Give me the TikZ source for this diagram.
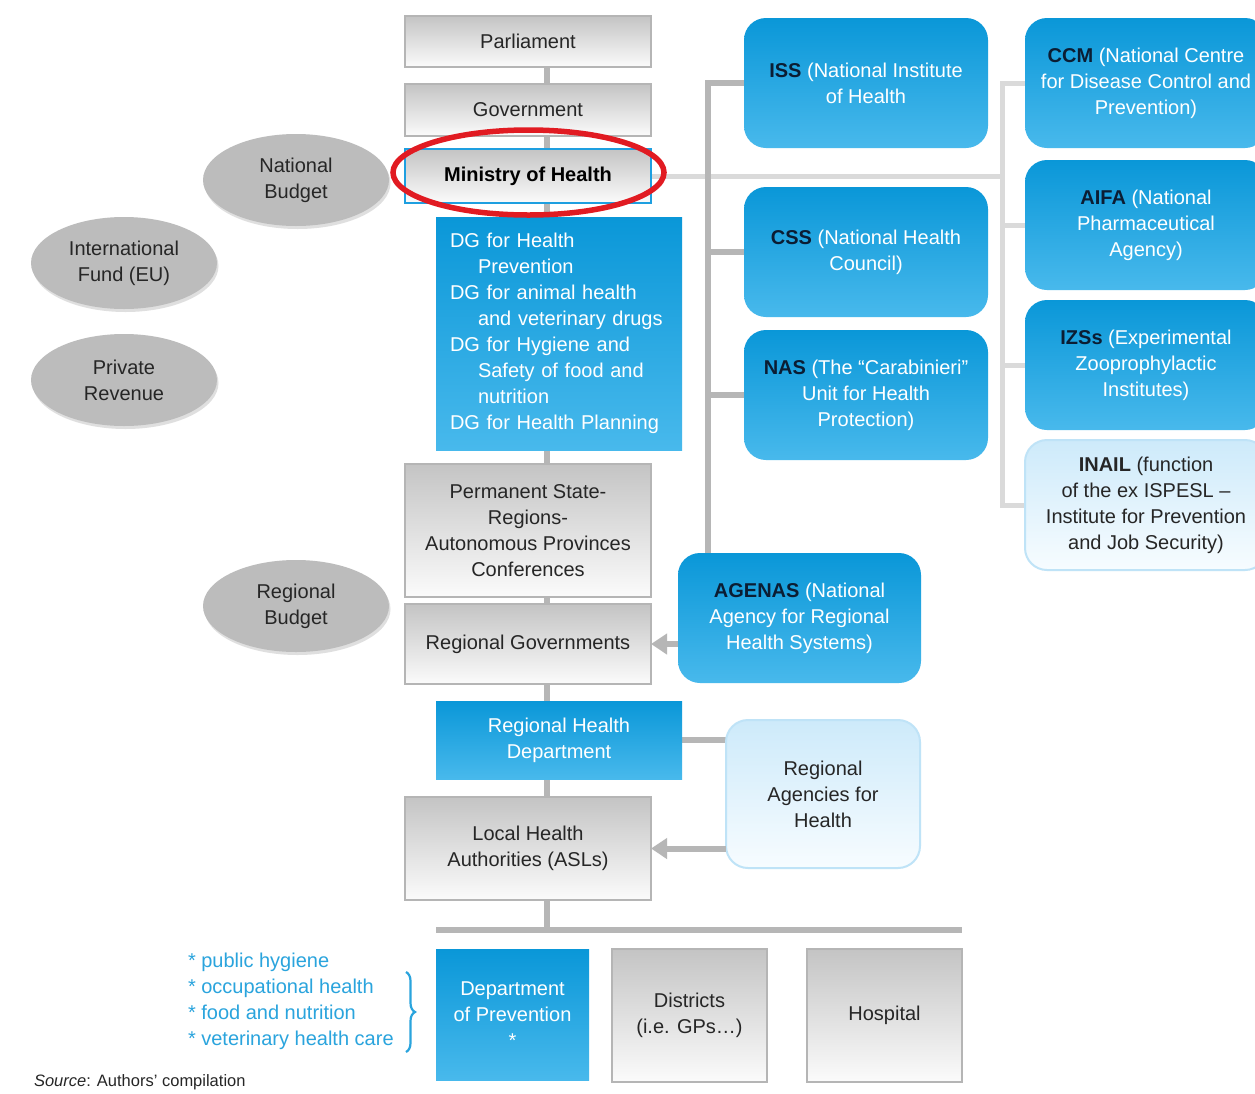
\documentclass[tikz,border=0pt]{standalone}
\usepackage{fontspec}
\setmainfont{Liberation Sans}
\usetikzlibrary{arrows.meta,shapes.geometric,shadows,backgrounds,decorations.pathreplacing,calc}
\definecolor{navy}{HTML}{0B1D33}
\definecolor{bluetop}{HTML}{0A97D8}
\definecolor{bluebot}{HTML}{48B9EC}
\definecolor{graytop}{HTML}{C4C4C4}
\definecolor{graybot}{HTML}{FBFBFB}
\definecolor{grayborder}{HTML}{B5B5B5}
\definecolor{textdark}{HTML}{262626}
\definecolor{mohblue}{HTML}{1E9FE0}
\definecolor{lighttop}{HTML}{CDEAFA}
\definecolor{lightbot}{HTML}{F7FCFF}
\definecolor{lightborder}{HTML}{BFE3F7}
\definecolor{ellgray}{HTML}{BCBCBC}
\definecolor{conngray}{HTML}{B6B6B6}
\definecolor{lightconn}{HTML}{DADADA}
\definecolor{listblue}{HTML}{2AA4DD}
\definecolor{hlred}{HTML}{E11B22}
\tikzset{
  base/.style={font=\fontsize{20}{26}\selectfont, align=center, inner sep=0pt, outer sep=0pt},
  graybox/.style={base, draw=grayborder, line width=2.5pt, top color=graytop, bottom color=graybot, text=textdark, minimum width=246pt},
  bluerect/.style={base, top color=bluetop, bottom color=bluebot, text=white},
  blueround/.style={bluerect, rounded corners=22pt, minimum width=244pt, minimum height=130pt},
  lightround/.style={base, rounded corners=22pt, draw=lightborder, line width=2pt, top color=lighttop, bottom color=lightbot, text=textdark},
  fund/.style={ellipse, base, fill=ellgray, minimum width=186pt, minimum height=92pt, text=textdark, drop shadow={opacity=0.25, shadow xshift=1.5pt, shadow yshift=-3pt}},
  conn/.style={draw=conngray, line width=6pt},
  lconn/.style={draw=lightconn, line width=5pt},
  arr/.style={conn, -{Triangle[width=20pt,length=16pt]}},
}
\newcommand{\ab}[1]{\textbf{\textcolor{navy}{#1}}}
\begin{document}
\begin{tikzpicture}[x=1pt,y=-1pt]
\useasboundingbox (0,0) rectangle (1255,1093);
\clip (0,0) rectangle (1255,1093);

% left column
\node[graybox, minimum height=51pt] (parl) at (528,41.5) {Parliament};
\node[graybox, minimum height=52pt] (gov) at (528,110) {Government};
\node[graybox, draw=mohblue, minimum height=54pt] (moh) at (528,176) {\textbf{\textcolor{black}{Ministry of Health}}};
\node[bluerect, minimum width=246pt, minimum height=233pt, text width=218pt, inner xsep=14pt, align=left] (dg) at (559,333.5) {DG for Health\\\hspace*{28pt}Prevention\\DG for animal health\\\hspace*{28pt}and veterinary drugs\\DG for Hygiene and\\\hspace*{28pt}Safety of food and\\\hspace*{28pt}nutrition\\DG for Health Planning};
\node[graybox, minimum height=133pt] (psr) at (528,530.5) {Permanent State-\\Regions-\\Autonomous Provinces\\Conferences};
\node[graybox, minimum height=80pt] (rg) at (528,644) {Regional Governments};
\node[bluerect, minimum width=246pt, minimum height=78pt] (rhd) at (559,740) {Regional Health\\Department};
\node[graybox, minimum height=103pt] (asl) at (528,848.5) {Local Health\\Authorities (ASLs)};
\node[bluerect, minimum width=153pt, minimum height=131pt] (dop) at (512.5,1014.5) {Department\\of Prevention\\*};
\node[graybox, minimum width=155pt, minimum height=133pt] (dist) at (689.5,1015.5) {Districts\\(i.e. GPs…)};
\node[graybox, minimum width=155pt, minimum height=133pt] (hosp) at (884.5,1015.5) {Hospital};

% middle column
\node[blueround] (iss) at (866,83) {\ab{ISS} (National Institute\\of Health};
\node[blueround] (css) at (866,252) {\ab{CSS} (National Health\\Council)};
\node[blueround] (nas) at (866,395) {\ab{NAS} (The “Carabinieri”\\Unit for Health\\Protection)};
\node[blueround, minimum width=243pt] (agenas) at (799.5,618) {\ab{AGENAS} (National\\Agency for Regional\\Health Systems)};
\node[lightround, minimum width=194pt, minimum height=148pt] (rah) at (823,794) {Regional\\Agencies for\\Health};

% right column
\node[blueround, minimum width=242pt] (ccm) at (1146,83) {\ab{CCM} (National Centre\\for Disease Control and\\Prevention)};
\node[blueround, minimum width=242pt] (aifa) at (1146,225) {\ab{AIFA} (National\\Pharmaceutical\\Agency)};
\node[blueround, minimum width=242pt] (izs) at (1146,365) {\ab{IZSs} (Experimental\\Zooprophylactic\\Institutes)};
\node[lightround, minimum width=242pt, minimum height=130pt] (inail) at (1146,505) {\textbf{INAIL} (function\\of the ex ISPESL –\\Institute for Prevention\\and Job Security)};

% funding ellipses
\node[fund] (nb) at (296,180) {National\\Budget};
\node[fund] (ife) at (124,263) {International\\Fund (EU)};
\node[fund] (pr) at (124,380) {Private\\Revenue};
\node[fund] (rb) at (296,606) {Regional\\Budget};

% highlight
\node[ellipse, draw=hlred, line width=5.5pt, minimum width=271pt, minimum height=85pt, inner sep=0pt] (hl) at (528.5,172.5) {};

% list and source
\node[base, align=left, anchor=west, text=listblue] (list) at (188,1001) {* public hygiene\\* occupational health\\* food and nutrition\\* veterinary health care};
\coordinate (brtop) at (406,972);
\coordinate (brbot) at (406,1052);
\draw[listblue, line width=2.2pt, decorate, decoration={brace, amplitude=9pt}] (brtop) -- (brbot);
\node[base, anchor=west, font=\fontsize{16.5}{20}\selectfont, text=textdark] (src) at (34,1082) {\textit{Source}: Authors’ compilation};

% connectors
\coordinate (sp) at (547,0);
\coordinate (mx) at (708,0);
\coordinate (rx) at (1002,0);
\coordinate (barL) at ($(dop.north west)+(0,-19)$);
\coordinate (barR) at ($(hosp.north east)+(0,-19)$);
\begin{scope}[on background layer]
  \fill[white] (0,0) rectangle (1255,1093);
  \draw[conn] (parl.center -| sp) -- (barL -| sp);
  \draw[conn] (barL) -- (barR);
  \draw[lconn] (moh.east) -- (moh.east -| rx);
  \draw[lconn] (ccm.west) -- (ccm.west -| rx) -- (inail.west -| rx) -- (inail.west);
  \draw[lconn] (aifa.west) -- (aifa.west -| rx);
  \draw[lconn] (izs.west) -- (izs.west -| rx);
  \draw[conn] (iss.west) -- (iss.west -| mx) -- (agenas.north -| mx);
  \draw[conn] (css.west) -- (css.west -| mx);
  \draw[conn] (nas.west) -- (nas.west -| mx);
  \draw[conn] (rhd.east) -- (rhd.east -| rah.west);
\end{scope}
\draw[arr] (agenas.west |- rg.east) -- (rg.east);
\draw[arr] (rah.west |- asl.east) -- (asl.east);
\end{tikzpicture}
\end{document}
